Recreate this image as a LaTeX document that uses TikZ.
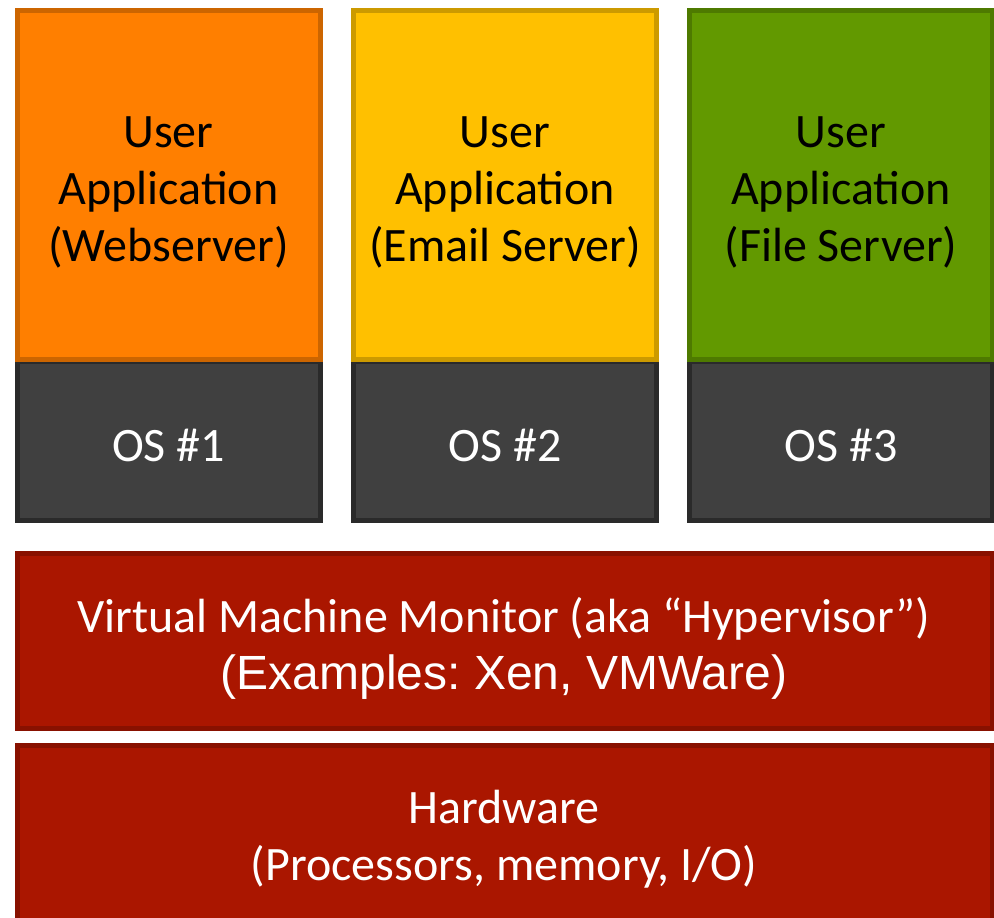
\documentclass[tikz,border=0pt]{standalone}
\usepackage{fontspec}
\setmainfont{Carlito}
\newfontfamily\arialfont{Liberation Sans}
\frenchspacing
\definecolor{orangeF}{HTML}{FF7F00}
\definecolor{orangeD}{HTML}{CC6500}
\definecolor{yellowF}{HTML}{FFC000}
\definecolor{yellowD}{HTML}{CC9A00}
\definecolor{greenF}{HTML}{629900}
\definecolor{greenD}{HTML}{4E7A00}
\definecolor{grayF}{HTML}{404040}
\definecolor{grayD}{HTML}{2A2A2A}
\definecolor{redF}{HTML}{AA1600}
\definecolor{redD}{HTML}{881100}
\tikzset{
  box/.style={line width=5pt},
  txt/.style={align=center, font=\fontsize{48}{57}\selectfont\frenchspacing, inner sep=0pt},
}
\begin{document}
\begin{tikzpicture}[x=1pt,y=-1pt]
\useasboundingbox (0,0) rectangle (994,918);
% OS boxes
\draw[box, fill=grayF, draw=grayD] (17.5,361) rectangle (320,520);
\draw[box, fill=grayF, draw=grayD] (353.5,361) rectangle (656.5,520);
\draw[box, fill=grayF, draw=grayD] (689.5,361) rectangle (992,520);
% App boxes
\draw[box, fill=orangeF, draw=orangeD] (17.5,10.5) rectangle (320,359);
\draw[box, fill=yellowF, draw=yellowD] (353.5,10.5) rectangle (656.5,359);
\draw[box, fill=greenF, draw=greenD] (689.5,10.5) rectangle (992,359);
% VMM and hardware
\draw[box, fill=redF, draw=redD] (17.5,553) rectangle (992,728);
\draw[box, fill=redF, draw=redD] (17.5,745) rectangle (992,930);
% texts
\node[txt] (app1) at (168.5,192) {User\\Application\\(Webserver)};
\node[txt] (app2) at (505,192) {User\\Application\\(Email Server)};
\node[txt] (app3) at (841,192) {User\\Application\\(File Server)};
\node[txt, white] (os1) at (168.5,445) {OS \#1};
\node[txt, white] (os2) at (505,445) {OS \#2};
\node[txt, white] (os3) at (841,445) {OS \#3};
\node[txt, white] (vmm) at (504,648) {Virtual Machine Monitor (aka “Hypervisor”)\\{\arialfont (Examples: Xen, VMWare)}};
\node[txt, white] (hw) at (504,839) {Hardware\\(Processors, memory, I/O)};
\end{tikzpicture}
\end{document}
